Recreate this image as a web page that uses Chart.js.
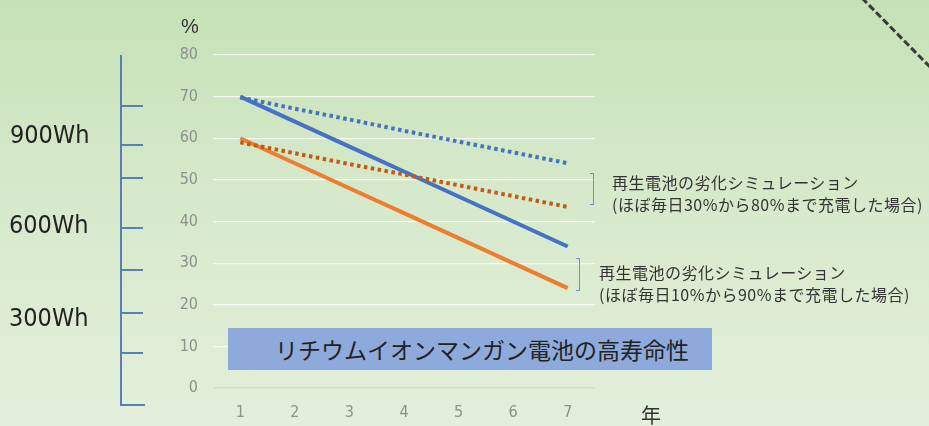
<!DOCTYPE html>
<html><head><meta charset="utf-8">
<script src="https://cdn.jsdelivr.net/npm/chart.js@4"></script>
<style>
html,body{margin:0;padding:0;}
body{width:929px;height:426px;position:relative;overflow:hidden;
background:linear-gradient(to bottom,#c6e1b6 0%,#d6e9cb 45%,#e3efdb 100%);
font-family:"Noto Sans CJK JP","Noto Sans",sans-serif;}
#c{position:absolute;left:0;top:0;width:929px;height:426px;}
.abs{position:absolute;white-space:nowrap;}
.wh{font-family:"Liberation Sans Narrow","DejaVu Sans Condensed",sans-serif;font-size:25px;color:#222;}
.vl{position:absolute;background:#5b7fb5;}
.note{font-size:16px;color:#333;line-height:22px;letter-spacing:0.5px;}
.br{position:absolute;border:1.3px solid #6f8fc0;border-left:none;width:3px;}
</style></head>
<body>
<canvas id="c" width="929" height="426"></canvas>
<!-- left capacity scale decoration -->
<div class="vl" style="left:120px;top:55px;width:1.5px;height:350px;"></div>
<div class="vl" style="left:120px;top:404px;width:25px;height:1.5px;"></div>
<div class="vl" style="left:120px;top:105px;width:23px;height:1.5px;"></div>
<div class="vl" style="left:120px;top:144px;width:23px;height:1.5px;"></div>
<div class="vl" style="left:120px;top:177px;width:23px;height:1.5px;"></div>
<div class="vl" style="left:120px;top:227px;width:23px;height:1.5px;"></div>
<div class="vl" style="left:120px;top:269px;width:23px;height:1.5px;"></div>
<div class="vl" style="left:120px;top:312px;width:23px;height:1.5px;"></div>
<div class="vl" style="left:120px;top:352px;width:23px;height:1.5px;"></div>
<div class="abs wh" style="left:10px;top:120px;">900Wh</div>
<div class="abs wh" style="left:9px;top:210px;">600Wh</div>
<div class="abs wh" style="left:9px;top:303px;">300Wh</div>
<div class="abs" style="left:181px;top:15px;font-size:20px;color:#333;font-family:'Liberation Sans',sans-serif;">%</div>
<div class="abs" style="left:641px;top:400px;font-size:20px;color:#333;">年</div>
<!-- blue title box -->
<div class="abs" style="left:228px;top:328px;width:484px;height:42px;background:#8eaadb;"></div>
<div class="abs" style="left:275px;top:328px;height:42px;line-height:42px;font-size:23px;color:#222;">リチウムイオンマンガン電池の高寿命性</div>
<!-- annotations -->
<div class="br" style="left:590px;top:173px;height:30px;"></div>
<div class="abs note" style="left:612px;top:171px;">再生電池の劣化シミュレーション<br>(ほぼ毎日30%から80%まで充電した場合)</div>
<div class="br" style="left:576px;top:258px;height:31px;"></div>
<div class="abs note" style="left:599px;top:261px;">再生電池の劣化シミュレーション<br>(ほぼ毎日10%から90%まで充電した場合)</div>
<svg class="abs" style="left:0;top:0;" width="929" height="426"><line x1="862" y1="-2" x2="931" y2="68" stroke="#3a3a3a" stroke-width="3" stroke-dasharray="7,3"/></svg>
<script>
const years = ["1","2","3","4","5","6","7"];
const yTicks = [0,10,20,30,40,50,60,70,80];
const blueSolid = [70,64,58,52,46,40,34];
const orangeSolid = [60,54,48,42,36,30,24];
const blueDotted = [69.8,67.1,64.5,61.8,59.2,56.6,54];
const orangeDotted = [59,56.4,53.8,51.3,48.7,46.1,43.5];
const tickFont = {family:"'Liberation Sans Narrow','DejaVu Sans Condensed',sans-serif",size:16};

new Chart(document.getElementById('c'), {
  type: 'line',
  data: {
    labels: years,
    datasets: [
      {data: blueDotted, borderColor:'#4472c4', borderWidth:4, borderDash:[3.5,3.5], borderCapStyle:'butt', pointRadius:0, tension:0},
      {data: orangeDotted, borderColor:'#c55a11', borderWidth:4, borderDash:[3.5,3.5], borderCapStyle:'butt', pointRadius:0, tension:0},
      {data: blueSolid, borderColor:'#4472c4', borderWidth:4, pointRadius:0, tension:0},
      {data: orangeSolid, borderColor:'#ed7d31', borderWidth:4, pointRadius:0, tension:0}
    ]
  },
  options: {
    responsive:false, animation:false,
    layout:{padding:{left:168,right:334,top:55,bottom:0}},
    plugins:{legend:{display:false},tooltip:{enabled:false}},
    scales:{
      x:{offset:true,
         afterFit:(ax)=>{ax.height=38;},
         grid:{display:false,drawTicks:false},
         border:{display:false},
         ticks:{color:'#8c918a',padding:15,font:tickFont}},
      y:{min:0,max:80,
         afterFit:(ax)=>{ax.width=45;},
         afterBuildTicks:(ax)=>{ax.ticks=yTicks.map(v=>({value:v}));},
         grid:{color:(c)=>c.tick && c.tick.value===0?'#d4d8d0':'rgba(255,255,255,0.75)',lineWidth:1.2,drawTicks:false},
         border:{display:false},
         ticks:{color:'#8c918a',padding:15,font:tickFont}}
    }
  }
});
</script>
</body></html>
